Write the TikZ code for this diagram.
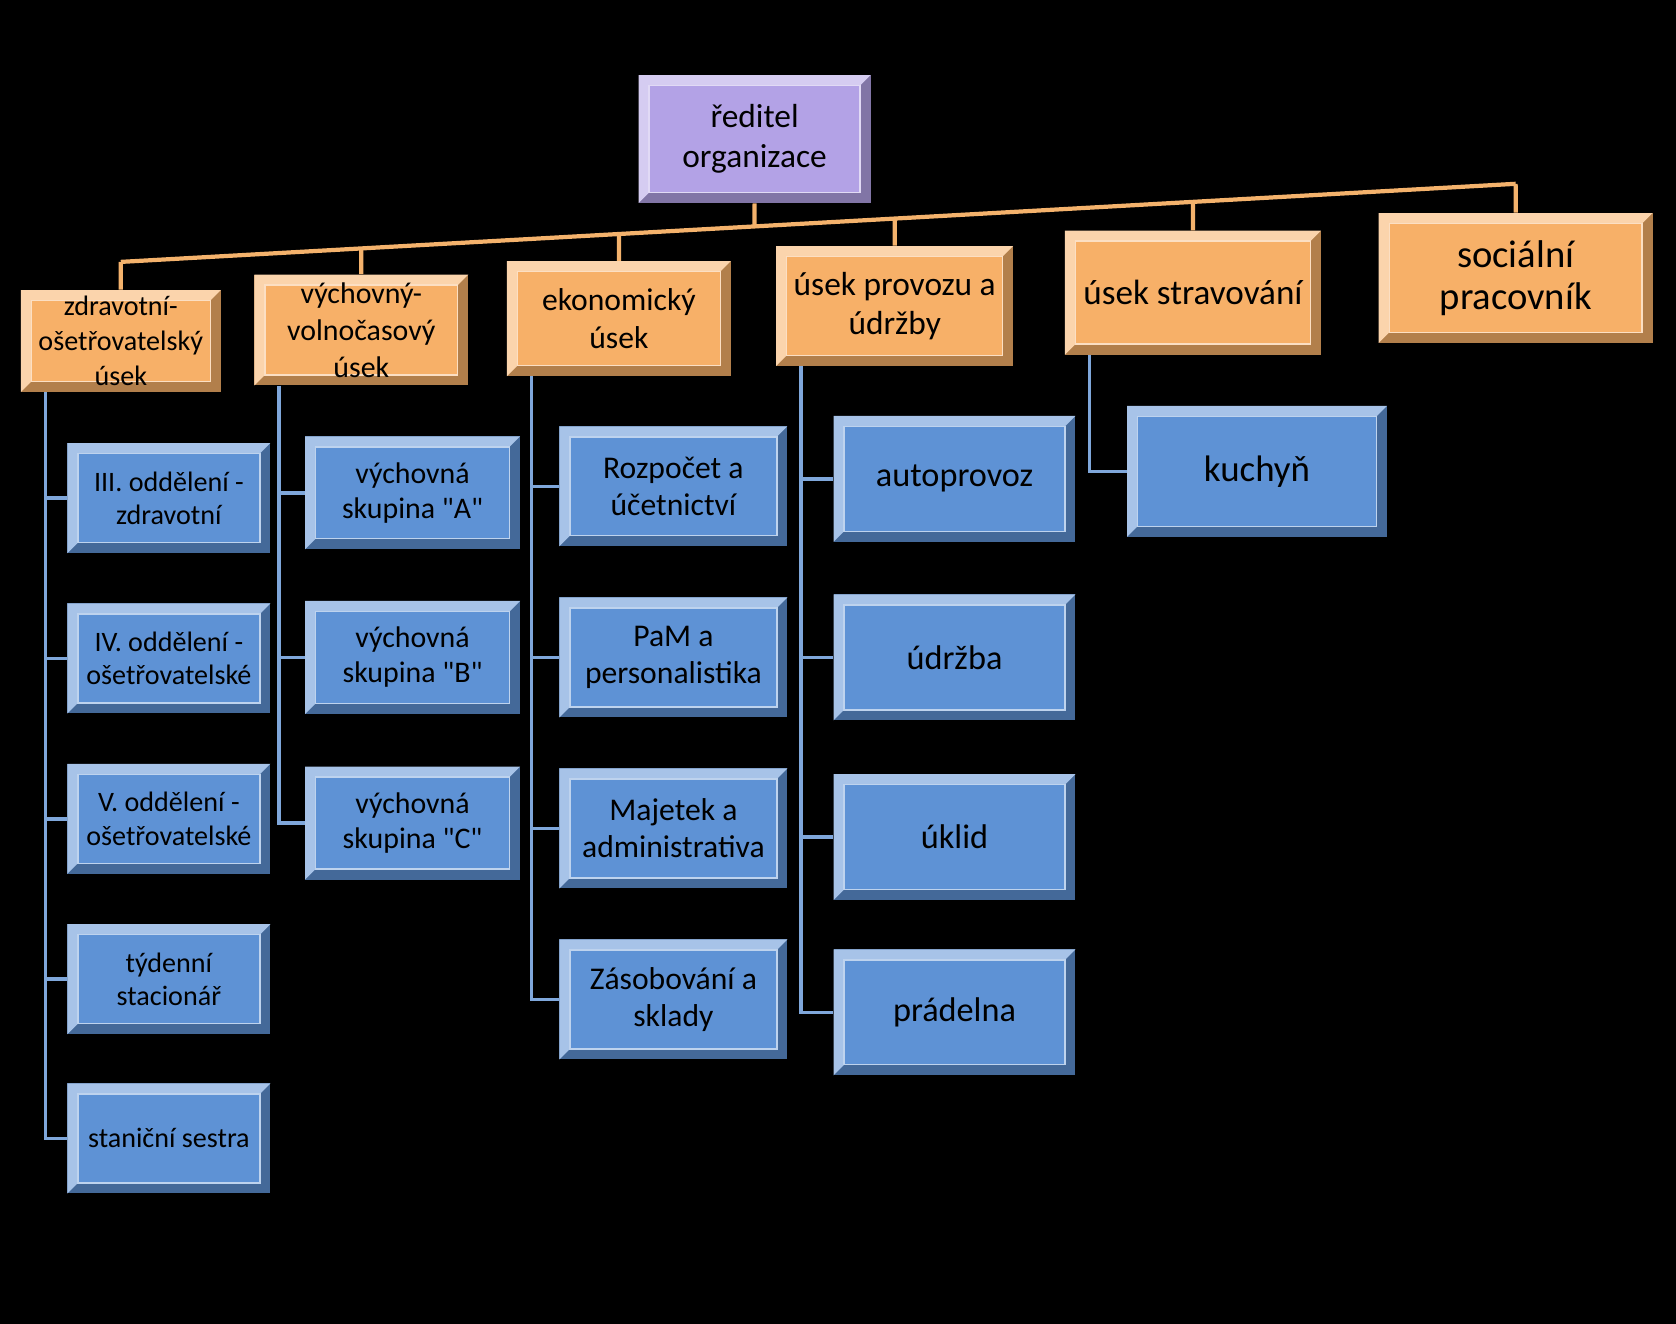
\documentclass[tikz,border=0pt]{standalone}
\usepackage{fontspec}
\setmainfont{Carlito}[Ligatures=TeXOff]
\usetikzlibrary{positioning, calc}
\definecolor{orgorange}{HTML}{F7B068}
\definecolor{orgpurple}{HTML}{B3A2E6}
\definecolor{orgblue}{HTML}{5E92D5}
\definecolor{lineorange}{HTML}{F4B26C}
\definecolor{lineblue}{HTML}{7FA7DB}
\newcommand{\boxfont}[2]{\fontsize{#1}{#2}\selectfont}

\begin{document}
\begin{tikzpicture}[x=0.02cm, y=-0.02cm,
    bevelbox/.style={fill=#1!72!black, align=center, inner sep=2pt, text=black,
      path picture={
        \path (path picture bounding box.north west) coordinate (bnw)
              (path picture bounding box.north east) coordinate (bne)
              (path picture bounding box.south west) coordinate (bsw)
              (path picture bounding box.south east) coordinate (bse);
        \fill[#1!55!white] (bnw) -- (bne) -- ([shift={(-6pt,-6pt)}]bne)
            -- ([shift={(6pt,-6pt)}]bnw) -- ([shift={(6pt,6pt)}]bsw) -- (bsw) -- cycle;
        \fill[#1] ([shift={(6pt,-6pt)}]bnw) rectangle ([shift={(-6pt,6pt)}]bse);
        \draw[#1!40!white, line width=0.8pt] ([shift={(6pt,-6pt)}]bnw) rectangle ([shift={(-6pt,6pt)}]bse);
      }},
    headbox/.style={bevelbox=orgpurple, minimum width=4.64cm, minimum height=2.56cm, font=\boxfont{19}{23}},
    deptbox/.style={bevelbox=orgorange},
    unitbox/.style={bevelbox=orgblue},
    colA/.style={unitbox, minimum width=4.06cm, minimum height=2.2cm, font=\boxfont{16}{19}},
    colB/.style={unitbox, minimum width=4.3cm, minimum height=2.26cm, font=\boxfont{17}{20}},
    colC/.style={unitbox, minimum width=4.56cm, minimum height=2.4cm, font=\boxfont{18}{21}},
    colD/.style={unitbox, minimum width=4.84cm, minimum height=2.52cm, font=\boxfont{19.5}{22}},
    colE/.style={unitbox, minimum width=5.2cm, minimum height=2.62cm, font=\boxfont{21}{24}},
    orgline/.style={draw=lineorange, line width=2.4pt},
    unitline/.style={draw=lineblue, line width=2pt},
]
    \fill[black] (0,0) rectangle (1676,1324);

    \node[headbox] (dir) at (754.6,139) {ředitel\\organizace};

    % useky
    \node[deptbox, minimum width=4cm, minimum height=2.04cm, font=\boxfont{16}{20}] (zdrav) at (120.8,341) {zdravotní-\\ošetřovatelský\\úsek};
    \node[deptbox, minimum width=4.28cm, minimum height=2.22cm, font=\boxfont{17}{21}] (vych) at (361.3,330) {výchovný-\\volnočasový\\úsek};
    \node[deptbox, minimum width=4.48cm, minimum height=2.3cm, font=\boxfont{18}{21.5}] (ekon) at (618.9,318.6) {ekonomický\\úsek};
    \node[deptbox, minimum width=4.74cm, minimum height=2.4cm, font=\boxfont{19}{22}] (prov) at (894.7,306) {úsek provozu a\\údržby};
    \node[deptbox, minimum width=5.12cm, minimum height=2.48cm, font=\boxfont{20}{23}] (strav) at (1192.9,292.6) {úsek stravování};
    \node[deptbox, minimum width=5.48cm, minimum height=2.6cm, font=\boxfont{22}{24}] (soc) at (1515.7,278) {sociální\\pracovník};

    % oddeleni
    \node[colA] (oddIII) at (168.9,498.1) {III. oddělení -\\zdravotní};
    \node[colA] (oddIV) at (168.9,658.4) {IV. oddělení -\\ošetřovatelské};
    \node[colA] (oddV) at (168.9,818.8) {V. oddělení -\\ošetřovatelské};
    \node[colA] (tyden) at (168.9,979.1) {týdenní\\stacionář};
    \node[colA] (sestra) at (168.9,1138.4) {staniční sestra};

    \node[colB] (skupA) at (412.6,492.8) {výchovná\\skupina "A"};
    \node[colB] (skupB) at (412.6,657.4) {výchovná\\skupina "B"};
    \node[colB] (skupC) at (412.6,823.1) {výchovná\\skupina "C"};

    \node[colC] (rozpocet) at (673.4,486.3) {Rozpočet a\\účetnictví};
    \node[colC] (pam) at (673.4,657.4) {PaM a\\personalistika};
    \node[colC] (majetek) at (673.4,828.4) {Majetek a\\administrativa};
    \node[colC] (zasob) at (673.4,999.4) {Zásobování a\\sklady};

    \node[colD] (auto) at (954.5,478.9) {autoprovoz};
    \node[colD] (udrzba) at (954.5,657.4) {údržba};
    \node[colD] (uklid) at (954.5,837) {úklid};
    \node[colD] (pradelna) at (954.5,1012.3) {prádelna};

    \node[colE] (kuchyn) at (1257,471.4) {kuchyň};

    % sbernice
    \coordinate (busL) at (120.8,261.9);
    \coordinate (busR) at (1515.7,183.8);
    \draw[orgline] (busL) -- (busR);
    \draw[orgline] (dir.south) -- (intersection of busL--busR and dir.south--dir.north);
    \foreach \d in {zdrav, vych, ekon, prov, strav, soc}
        \draw[orgline] (\d.north) -- (intersection of busL--busR and \d.north--\d.south);

    \foreach \u in {oddIII, oddIV, oddV, tyden, sestra}
        \draw[unitline] ([xshift=0.5cm]zdrav.south west) |- (\u.west);
    \foreach \u in {skupA, skupB, skupC}
        \draw[unitline] ([xshift=0.5cm]vych.south west) |- (\u.west);
    \foreach \u in {rozpocet, pam, majetek, zasob}
        \draw[unitline] ([xshift=0.5cm]ekon.south west) |- (\u.west);
    \foreach \u in {auto, udrzba, uklid, pradelna}
        \draw[unitline] ([xshift=0.5cm]prov.south west) |- (\u.west);
    \draw[unitline] ([xshift=0.5cm]strav.south west) |- (kuchyn.west);
\end{tikzpicture}
\end{document}
